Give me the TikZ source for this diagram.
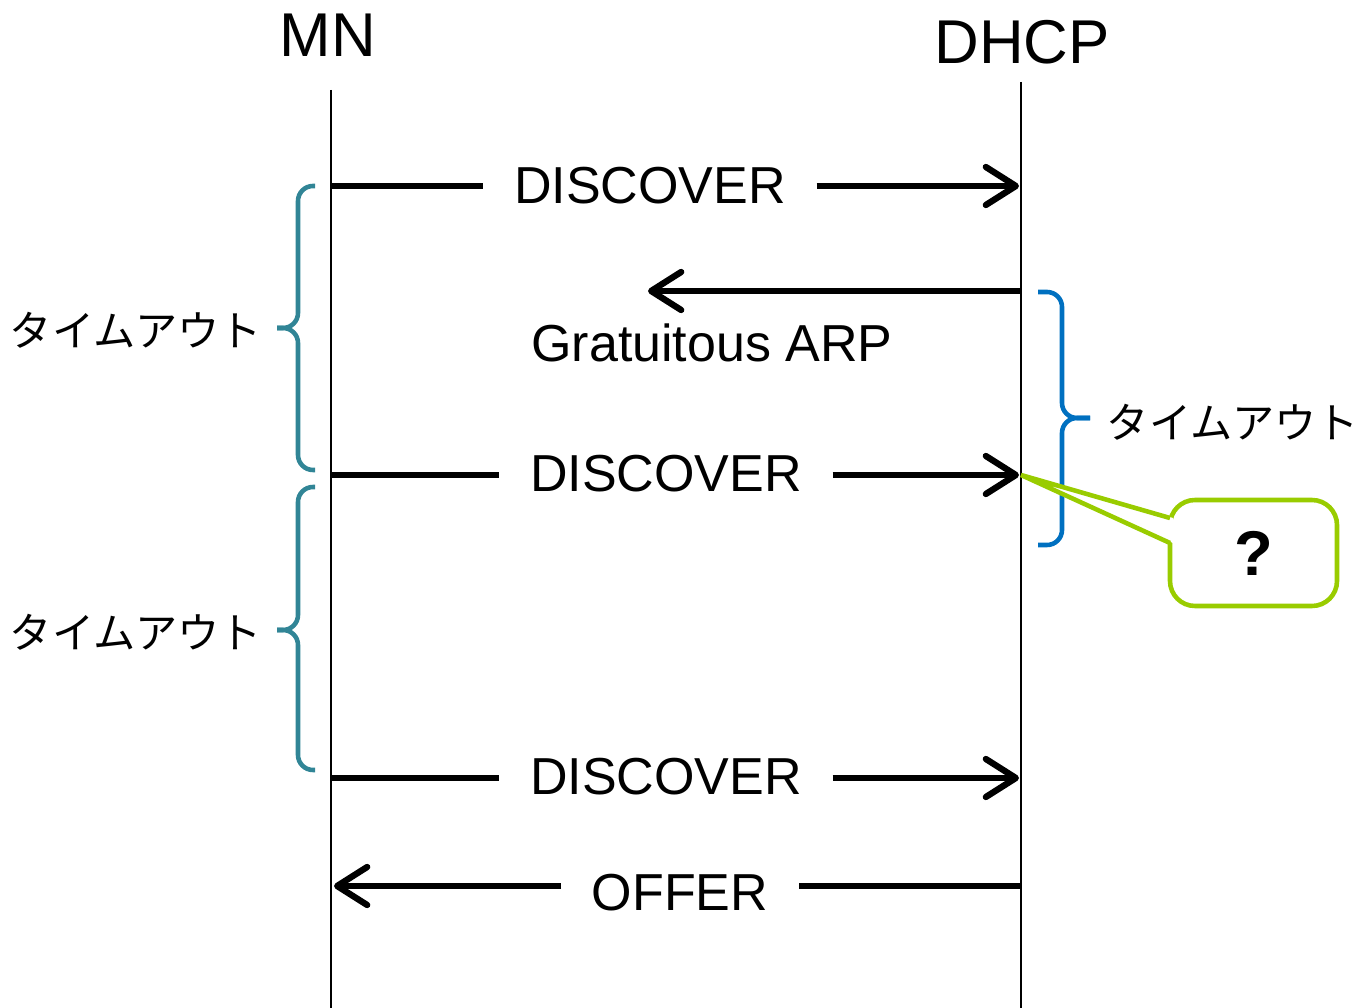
\documentclass[tikz,border=0pt]{standalone}
\usepackage{fontspec}
\setmainfont{Liberation Sans}
\newfontfamily\jpfont{Noto Sans CJK JP}
\usetikzlibrary{arrows.meta,positioning}
\tikzset{>={Straight Barb[length=3mm,width=3.8mm,round]}}
\definecolor{braceteal}{RGB}{49,133,150}
\definecolor{braceblue}{RGB}{0,112,192}
\definecolor{calloutgreen}{RGB}{153,204,0}
\tikzset{
    actor/.style={font=\fontsize{17.6}{20}\selectfont, inner sep=0pt},
    lifeline/.style={line width=0.6pt},
    msg/.style={line width=1.8pt},
    msglabel/.style={font=\fontsize{14.8}{17}\selectfont, inner xsep=0.3cm, inner ysep=0pt},
    timeout/.style={font=\jpfont\fontsize{12}{14}\selectfont, inner sep=0pt},
    mnbrace/.style={draw=braceteal, line width=1.3pt, rounded corners=1.5mm},
    dhcpbrace/.style={draw=braceblue, line width=1.3pt, rounded corners=1.5mm},
    callout/.style={draw=calloutgreen, line width=1.3pt, fill=white, rounded corners=2.5mm,
        minimum width=1.67cm, minimum height=1.06cm, font=\bfseries\fontsize{18}{20}\selectfont},
    calloutline/.style={draw=calloutgreen, line width=1.3pt}
}
\begin{document}
\begin{tikzpicture}
    \useasboundingbox (0,0) rectangle (13.59,-10.08);
    % set up the lifelines
    \node[actor] (MN) at (3.28,-0.35) {MN};
    \node[actor] (DHCP) at (10.22,-0.42) {DHCP};
    \coordinate (MNtop) at (3.31,-0.90);
    \coordinate (MNend) at (3.31,-10.08);
    \coordinate (DHCPtop) at (10.21,-0.82);
    \coordinate (DHCPend) at (10.21,-10.08);
    \draw[lifeline] (MNtop) -- (MNend);
    \draw[lifeline] (DHCPtop) -- (DHCPend);
    % end points of the messages
    \coordinate (m1) at (3.31,-1.86);
    \coordinate (d1) at (10.19,-1.86);
    \coordinate (d2) at (10.21,-2.91);
    \coordinate (g2) at (6.48,-2.91);
    \coordinate (m3) at (3.31,-4.75);
    \coordinate (d3) at (10.19,-4.75);
    \coordinate (m4) at (3.31,-7.78);
    \coordinate (d4) at (10.19,-7.78);
    \coordinate (d5) at (10.21,-8.86);
    \coordinate (m5) at (3.34,-8.86);
    % message labels
    \node[msglabel] (disc1) at (6.50,-1.86) {DISCOVER};
    \node[msglabel] (garp) at (7.12,-3.43) {Gratuitous ARP};
    \node[msglabel] (disc2) at (6.66,-4.74) {DISCOVER};
    \node[msglabel] (disc3) at (6.66,-7.77) {DISCOVER};
    \node[msglabel] (offer) at (6.80,-8.93) {OFFER};
    % draw the messages
    \draw[msg] (m1) -- (disc1.west |- m1);
    \draw[msg,->] (disc1.east |- d1) -- (d1);
    \draw[msg,->] (d2) -- (g2);
    \draw[msg] (m3) -- (disc2.west |- m3);
    \draw[msg,->] (disc2.east |- d3) -- (d3);
    \draw[msg] (m4) -- (disc3.west |- m4);
    \draw[msg,->] (disc3.east |- d4) -- (d4);
    \draw[msg] (d5) -- (offer.east |- d5);
    \draw[msg,->] (offer.west |- m5) -- (m5);
    % timeouts of MN
    \draw[mnbrace] (3.15,-1.86) -- (2.98,-1.86) -- (2.98,-3.28) -- (2.77,-3.28);
    \draw[mnbrace] (2.77,-3.28) -- (2.98,-3.28) -- (2.98,-4.70) -- (3.15,-4.70);
    \draw[mnbrace] (3.15,-4.87) -- (2.98,-4.87) -- (2.98,-6.30) -- (2.77,-6.30);
    \draw[mnbrace] (2.77,-6.30) -- (2.98,-6.30) -- (2.98,-7.70) -- (3.15,-7.70);
    \node[timeout] (to1) at (1.36,-3.30) {タイムアウト};
    \node[timeout] (to2) at (1.36,-6.32) {タイムアウト};
    % timeout of DHCP
    \draw[dhcpbrace] (10.38,-2.92) -- (10.62,-2.92) -- (10.62,-4.18) -- (10.90,-4.18);
    \draw[dhcpbrace] (10.90,-4.18) -- (10.62,-4.18) -- (10.62,-5.45) -- (10.38,-5.45);
    \node[timeout] (to3) at (12.33,-4.22) {タイムアウト};
    % the question
    \node[callout] (q) at (12.535,-5.53) {?};
    \coordinate (tip) at (10.21,-4.75);
    \coordinate (qa) at (11.70,-5.18);
    \coordinate (qb) at (11.70,-5.43);
    \fill[white] (11.73,-5.18) -- (tip) -- (11.73,-5.43) -- cycle;
    \draw[calloutline] (qa) -- (tip) -- (qb);
\end{tikzpicture}
\end{document}
